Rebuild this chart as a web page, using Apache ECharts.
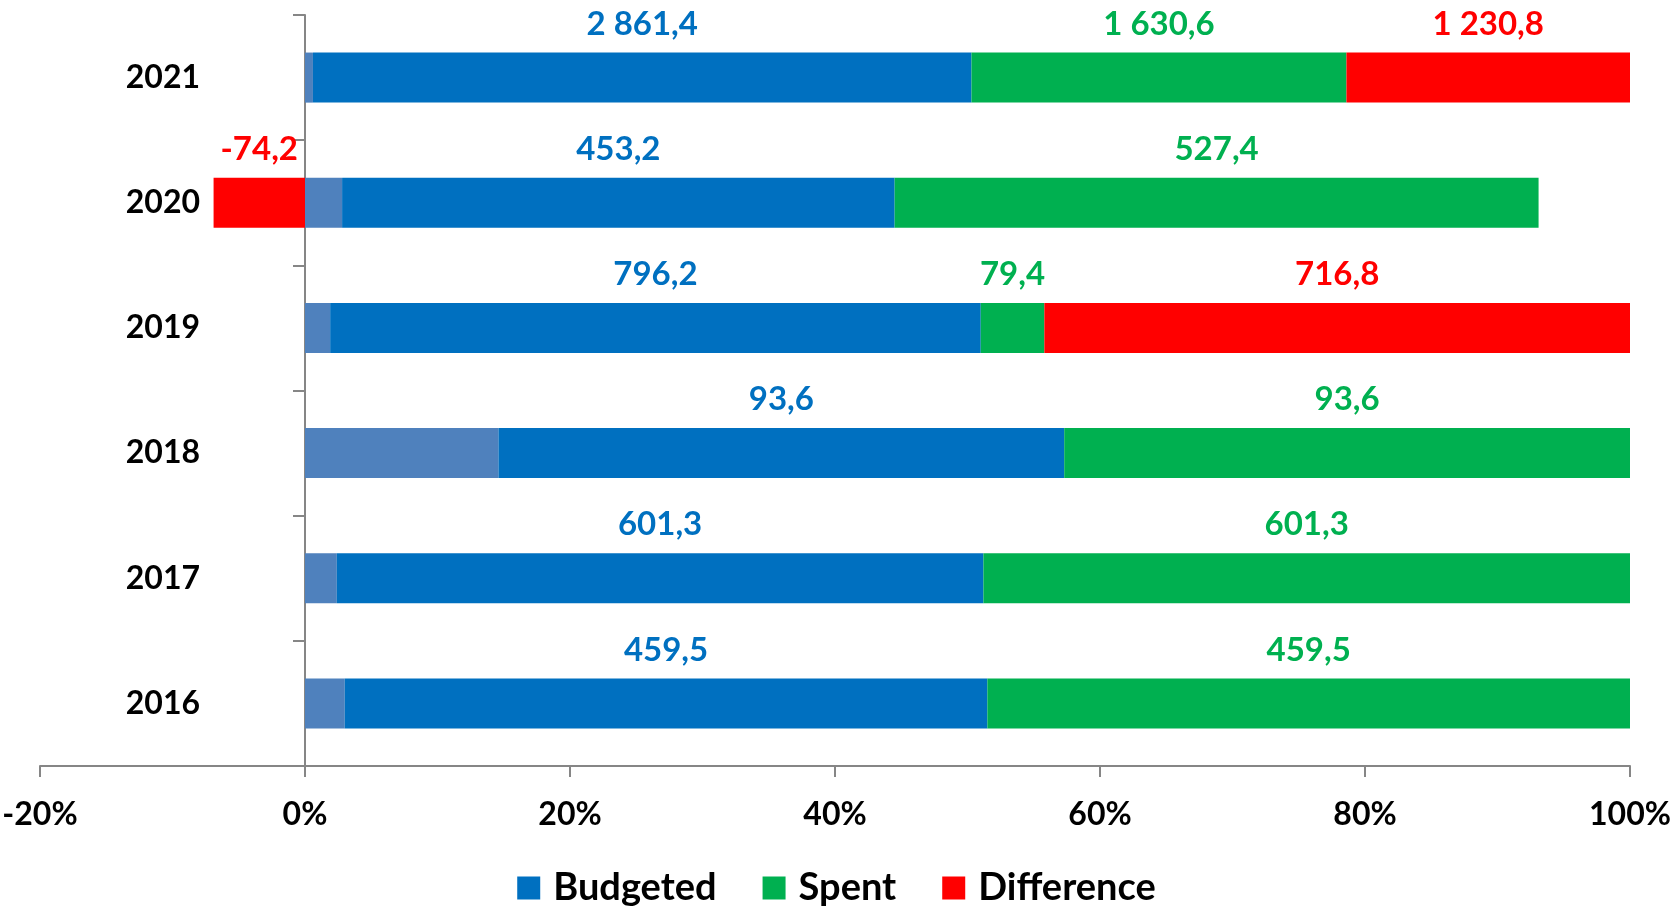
<!DOCTYPE html>
<html>
<head>
<meta charset="utf-8">
<script src="https://cdn.jsdelivr.net/npm/echarts@6/dist/echarts.min.js"></script>
<style>
  html, body { margin: 0; padding: 0; background: #fff; }
  #chart { width: 1673px; height: 907px; }
</style>
</head>
<body>
<div id="chart"></div>
<script>
// years, bottom to top
const years = ['2016', '2017', '2018', '2019', '2020', '2021']

// bar shares in % of the row
const otherPct = [3.0, 2.4, 14.6, 1.9, 2.8, 0.6]
const budgetedPct = [48.5, 48.8, 42.7, 49.1, 41.7, 49.7]
const spentPct = [48.5, 48.8, 42.7, 4.8, 48.6, 28.3]
const diffPct = [null, null, null, 44.2, -6.9, 21.4]

// data labels (absolute values)
const budgetedLabels = ['459,5', '601,3', '93,6', '796,2', '453,2', '2 861,4']
const spentLabels = ['459,5', '601,3', '93,6', '79,4', '527,4', '1 630,6']
const diffLabels = ['', '', '', '716,8', '-74,2', '1 230,8']

const xTicks = [-20, 100, 20] // min, max, step

const FONT = 'Lato'

function label(color, texts) {
  return {
    show: true,
    position: 'top',
    distance: 12,
    color: color,
    fontFamily: FONT,
    fontWeight: 'bold',
    fontSize: 33,
    formatter: (p) => texts[p.dataIndex] || ''
  }
}

const chart = echarts.init(document.getElementById('chart'))
const option = {
  animation: false,
  backgroundColor: '#fff',
  grid: {
    left: 40,
    right: 43,
    top: 15,
    bottom: 141,
    containLabel: false,
    outerBoundsMode: 'none'
  },
  legend: {
    bottom: -5,
    left: 'center',
    data: ['Budgeted', 'Spent', 'Difference'],
    icon: 'rect',
    itemWidth: 23,
    itemHeight: 23,
    itemGap: 46,
    textStyle: {
      fontFamily: FONT,
      fontWeight: 'bold',
      fontSize: 38,
      color: '#000',
      padding: [0, 0, 0, 8]
    }
  },
  xAxis: {
    type: 'value',
    min: xTicks[0],
    max: xTicks[1],
    interval: xTicks[2],
    axisLine: { show: true, lineStyle: { color: '#868686', width: 2 } },
    axisTick: { show: true, length: 11, lineStyle: { color: '#868686', width: 2 } },
    splitLine: { show: false },
    axisLabel: {
      formatter: '{value}%',
      margin: 33,
      color: '#000',
      fontFamily: FONT,
      fontWeight: 'bold',
      fontSize: 32
    }
  },
  yAxis: {
    type: 'category',
    data: years,
    axisLine: { show: true, onZero: true, lineStyle: { color: '#868686', width: 2 } },
    axisTick: { show: true, length: 12, lineStyle: { color: '#868686', width: 2 } },
    axisLabel: {
      margin: -160,
      align: 'right',
      color: '#000',
      fontFamily: FONT,
      fontWeight: 'bold',
      fontSize: 32
    }
  },
  series: [
    {
      name: 'Other',
      type: 'bar',
      stack: 'total',
      barWidth: '40%',
      itemStyle: { color: '#4F81BD' },
      data: otherPct
    },
    {
      name: 'Budgeted',
      type: 'bar',
      stack: 'total',
      itemStyle: { color: '#0070C0' },
      label: label('#0070C0', budgetedLabels),
      data: budgetedPct
    },
    {
      name: 'Spent',
      type: 'bar',
      stack: 'total',
      itemStyle: { color: '#00B050' },
      label: label('#00B050', spentLabels),
      data: spentPct
    },
    {
      name: 'Difference',
      type: 'bar',
      stack: 'total',
      itemStyle: { color: '#FF0000' },
      label: label('#FF0000', diffLabels),
      data: diffPct
    }
  ]
}
chart.setOption(option)
</script>
</body>
</html>
